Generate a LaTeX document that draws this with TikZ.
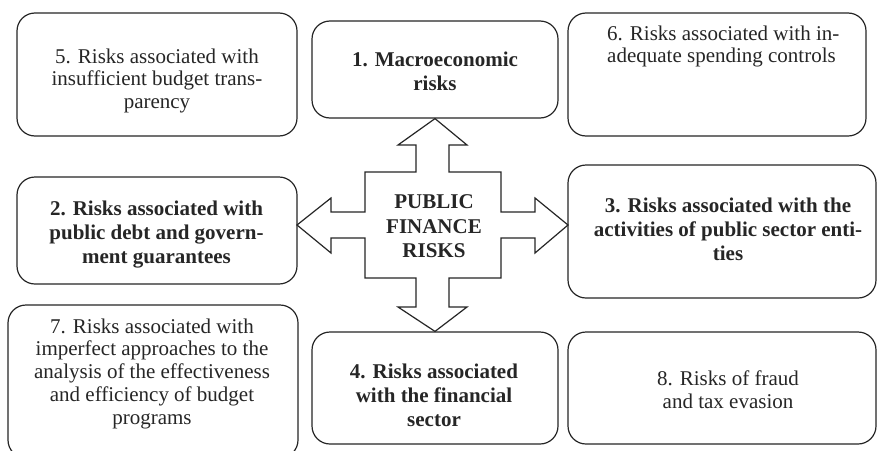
\documentclass[tikz,border=0pt]{standalone}
\usepackage{fontspec}
\setmainfont{Liberation Serif}
\begin{document}
\begin{tikzpicture}[x=1pt,y=-1pt,
  box/.style={draw=black!85, line width=1.2pt, rounded corners=18pt, inner sep=0pt},
  txt/.style={inner sep=0pt, anchor=north, align=center, text=black!85, font=\fontsize{21}{22.7}\selectfont},
  btxt/.style={inner sep=0pt, anchor=north, align=center, text=black!85, font=\fontsize{21}{24.2}\selectfont\bfseries},
  cross/.style={draw=black!85, line width=1.2pt, line join=miter, fill=white}]
\clip (0,0) rectangle (877,450);
\fill[white] (0,0) rectangle (877,450);
% boxes
\node[box, minimum width=280pt, minimum height=123pt] (b5) at (157,74.5) {};
\node[box, minimum width=246pt, minimum height=97pt] (b1) at (435,69.5) {};
\node[box, minimum width=298pt, minimum height=123pt] (b6) at (717,74.5) {};
\node[box, minimum width=280pt, minimum height=107pt] (b2) at (157,230.5) {};
\node[box, minimum width=308pt, minimum height=133pt] (b3) at (722,231.5) {};
\node[box, minimum width=290pt, minimum height=153pt] (b7) at (153,381.5) {};
\node[box, minimum width=246pt, minimum height=112pt] (b4) at (435,388) {};
\node[box, minimum width=308pt, minimum height=112pt] (b8) at (722,388) {};
% texts
\node[txt] (t5) at (157,48.5) {5. Risks associated with\\insufficient budget trans-\\parency};
\node[btxt] (t1) at (435,51.5) {1. Macroeconomic\\risks};
\node[txt, anchor=north west, align=left] (t6) at (607,25.5) {6. Risks associated with in-\\adequate spending controls};
\node[btxt] (t2) at (156.5,200.5) {2. Risks associated with\\public debt and govern-\\ment guarantees};
\node[btxt] (t3) at (728,197.5) {3. Risks associated with the\\activities of public sector enti-\\ties};
\node[txt] (t7) at (152,318.5) {7. Risks associated with\\imperfect approaches to the\\analysis of the effectiveness\\and efficiency of budget\\programs};
\node[btxt] (t4) at (434,363.5) {4. Risks associated\\with the financial\\sector};
\node[txt] (t8) at (728,370.5) {8. Risks of fraud\\and tax evasion};
% cross arrow
\coordinate (tipU) at (b1.south);
\coordinate (tipD) at (b4.north);
\coordinate (tipL) at (297,225);
\coordinate (tipR) at (568,225);
\draw[cross] (tipU) -- (467,145) -- (449,145) -- (449,172) -- (501,172) -- (501,212)
  -- (535,212) -- (535,198) -- (tipR) -- (535,253) -- (535,238) -- (501,238)
  -- (501,278) -- (449,278) -- (449,307) -- (467,307) -- (tipD) -- (398,307)
  -- (416,307) -- (416,278) -- (365,278) -- (365,238) -- (331,238) -- (331,253)
  -- (tipL) -- (331,198) -- (331,212) -- (365,212) -- (365,172) -- (416,172)
  -- (416,145) -- (398,145) -- cycle;
\node[btxt, font=\fontsize{21}{24.5}\selectfont\bfseries] (pfr) at (434,194.5) {PUBLIC\\FINANCE\\RISKS};
\end{tikzpicture}
\end{document}
